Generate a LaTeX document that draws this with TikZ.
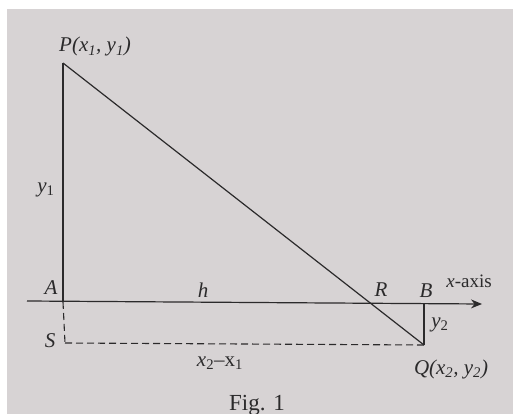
\documentclass[tikz,border=0pt]{standalone}
\usepackage{fontspec}
\setmainfont{Liberation Serif}
\usetikzlibrary{arrows.meta}
\definecolor{paper}{HTML}{D7D3D4}
\definecolor{ink}{HTML}{2B2A2B}
\tikzset{
  lbl/.style={text=ink, font=\fontsize{21}{24}\selectfont\itshape, inner sep=0pt},
  solidline/.style={draw=ink, line width=1.2pt},
  dashline/.style={draw=ink, line width=1.1pt, dash pattern=on 7pt off 4pt},
}
\newcommand{\sbx}[1]{\textsubscript{\upshape#1}}
\begin{document}
\begin{tikzpicture}[x=1pt,y=-1pt]
\useasboundingbox (0,0) rectangle (513,414);
\fill[white] (0,0) rectangle (513,414);
\fill[paper] (7,9) rectangle (513,414);
% points
\coordinate (P) at (63,63);
\coordinate (A) at (63,302);
\coordinate (S) at (65,343);
\coordinate (Q) at (424,345);
\coordinate (B) at (424,304);
\coordinate (L) at (27,301);
\coordinate (E) at (482,304);
% lines
\draw[solidline] (P) -- (A);
\draw[dashline] (A) -- (S);
\draw[dashline] (S) -- (Q);
\draw[solidline] (P) -- (Q);
\draw[solidline] (B) -- (Q);
\draw[solidline, -{Stealth[length=11pt,width=9pt]}] (L) -- (E);
% labels
\node[lbl, anchor=base west] (lP) at (59,52) {P(x\textsubscript{1}, y\textsubscript{1})};
\node[lbl] (ly1) at (46,190) {y\sbx{1}};
\node[lbl] (lA) at (51,288) {A};
\node[lbl] (lh) at (203,290) {h};
\node[lbl] (lR) at (381,290) {R};
\node[lbl] (lB) at (426,291) {B};
\node[lbl, anchor=base, font=\fontsize{19}{22}\selectfont\itshape] (lx) at (469,287) {x\upshape-axis};
\node[lbl] (ly2) at (440,325) {y\sbx{2}};
\node[lbl] (lS) at (50,341) {S};
\node[lbl] (lxx) at (220,363) {x\sbx{2}\upshape{--}x\sbx{1}};
\node[lbl] (lQ) at (451,369) {Q(x\textsubscript{2}, y\textsubscript{2})};
\node[text=ink, font=\fontsize{23}{26}\selectfont, inner sep=0pt] (lF) at (257,405) {Fig. 1};
\end{tikzpicture}
\end{document}
